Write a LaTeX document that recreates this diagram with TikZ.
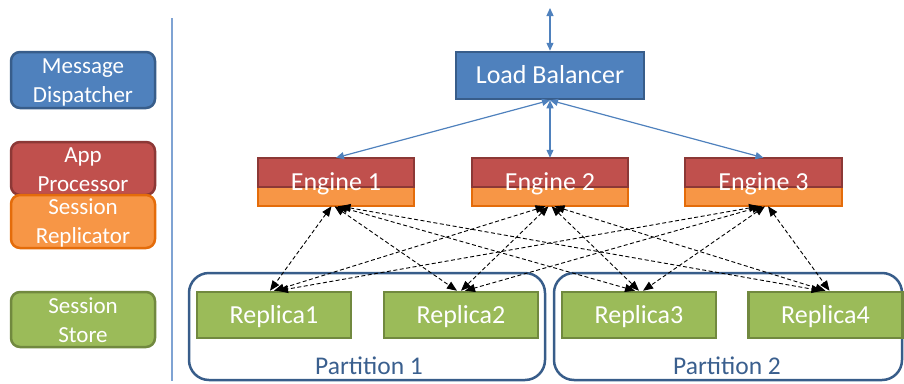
\documentclass[tikz,border=0pt]{standalone}
\usepackage{fontspec}
\setmainfont{Carlito}
\usetikzlibrary{arrows.meta,calc}
\definecolor{dispFill}{HTML}{4F81BD}
\definecolor{dispLine}{HTML}{385D8A}
\definecolor{procFill}{HTML}{C0504D}
\definecolor{procLine}{HTML}{8C3836}
\definecolor{replFill}{HTML}{F79646}
\definecolor{replLine}{HTML}{E46C0A}
\definecolor{storeFill}{HTML}{9BBB59}
\definecolor{storeLine}{HTML}{71893F}
\definecolor{sepLine}{HTML}{7FA3D3}
\definecolor{partText}{HTML}{3A5F8E}
\pgfdeclarelayer{background}
\pgfsetlayers{background,main}

\begin{document}
\begin{tikzpicture}[x=1pt,y=-1pt,
  box/.style={rectangle, inner sep=0pt, text=white, align=center, line width=2.5pt},
  legendbox/.style={box, rounded corners=9pt, minimum width=144pt,
    font=\fontsize{23}{29}\selectfont},
  bigtext/.style={font=\fontsize{26}{30}\selectfont},
  balancer/.style={box, bigtext, draw=dispLine, fill=dispFill,
    minimum width=188pt, minimum height=47pt, text height=20pt, text depth=5pt},
  engine/.style={box, bigtext, minimum width=154pt, minimum height=46pt,
    text height=21pt, text depth=5pt},
  replica/.style={box, bigtext, draw=storeLine, fill=storeFill,
    minimum width=154pt, minimum height=46pt, text height=22pt, text depth=5pt},
  partition/.style={rectangle, draw=dispLine, line width=2.5pt, rounded corners=20pt},
  partlabel/.style={inner sep=0pt, text=partText, font=\fontsize{25.5}{30}\selectfont},
  bluelink/.style={draw=dispFill, line width=1.2pt,
    {Triangle[width=7pt,length=8pt]}-{Triangle[width=7pt,length=8pt]}},
  synclink/.style={draw=black, line width=0.9pt, dash pattern=on 4pt off 2.5pt,
    {Triangle[width=8pt,length=10pt]}-{Triangle[width=8pt,length=10pt]}}
]
\useasboundingbox (0,0) rectangle (904,383);

% legend column (the strut on the first line lowers the two-line text a little)
\node[legendbox, draw=dispLine, fill=dispFill, minimum height=56pt] (lgDisp) at (83,80)
  {\rule{0pt}{19pt}Message\\Dispatcher};
\node[legendbox, draw=procLine, fill=procFill, minimum height=53pt] (lgProc) at (83,168.5)
  {\rule{0pt}{17pt}App\\Processor};
\node[legendbox, draw=replLine, fill=replFill, minimum height=53pt] (lgRepl) at (83,221.5)
  {\rule{0pt}{19pt}Session\\Replicator};
\node[legendbox, draw=storeLine, fill=storeFill, minimum height=55pt] (lgStore) at (83,319.5)
  {\rule{0pt}{17pt}Session\\Store};

% separator between legend and architecture
\draw[sepLine, line width=1.2pt] (172,18) -- (172,381);

% partitions
\node[partition, minimum width=356pt, minimum height=107pt] (p1) at (367,326.5) {};
\node[partition, minimum width=348pt, minimum height=107pt] (p2) at (728,326.5) {};
\node[partlabel] (p1l) at (369,366) {Partition 1};
\node[partlabel] (p2l) at (727,366) {Partition 2};

% load balancer and its external link
\node[balancer] (lb) at (550,75.5) {Load Balancer};
\coordinate (client) at (550,8);

% engines
\node[engine] (e1) at (336,182) {Engine 1};
\node[engine] (e2) at (550,182) {Engine 2};
\node[engine] (e3) at (763.5,182) {Engine 3};

% replicas
\node[replica] (r1) at (274,315) {Replica1};
\node[replica] (r2) at (461,315) {Replica2};
\node[replica] (r3) at (639,315) {Replica3};
\node[replica] (r4) at (825.5,315) {Replica4};

% two-part engine bodies: app processor on top, session replicator below
\begin{pgfonlayer}{background}
\foreach \e in {e1,e2,e3}{
  \draw[line width=2pt, draw=replLine, fill=replFill]
    ($(\e.west)+(0,5)$) rectangle (\e.south east);
  \draw[line width=2pt, draw=procLine, fill=procFill]
    (\e.north west) rectangle ($(\e.east)+(0,5)$);
}
\end{pgfonlayer}

% load balancer links
\draw[bluelink] (lb.north) -- (client);
\draw[bluelink] (lb.south) -- (e1.north);
\draw[bluelink] (lb.south) -- (e2.north);
\draw[bluelink] (lb.south) -- (e3.north);

% session replication links
\foreach \i/\dx in {1/-4,2/0,3/4}{
  \foreach \j/\ex in {1/-4.5,2/-1.5,3/1.5,4/4.5}{
    \draw[synclink] ($(e\i.south)+(\ex,0)$) -- ($(r\j.north)+(\dx,0)$);
  }
}
\end{tikzpicture}
\end{document}
